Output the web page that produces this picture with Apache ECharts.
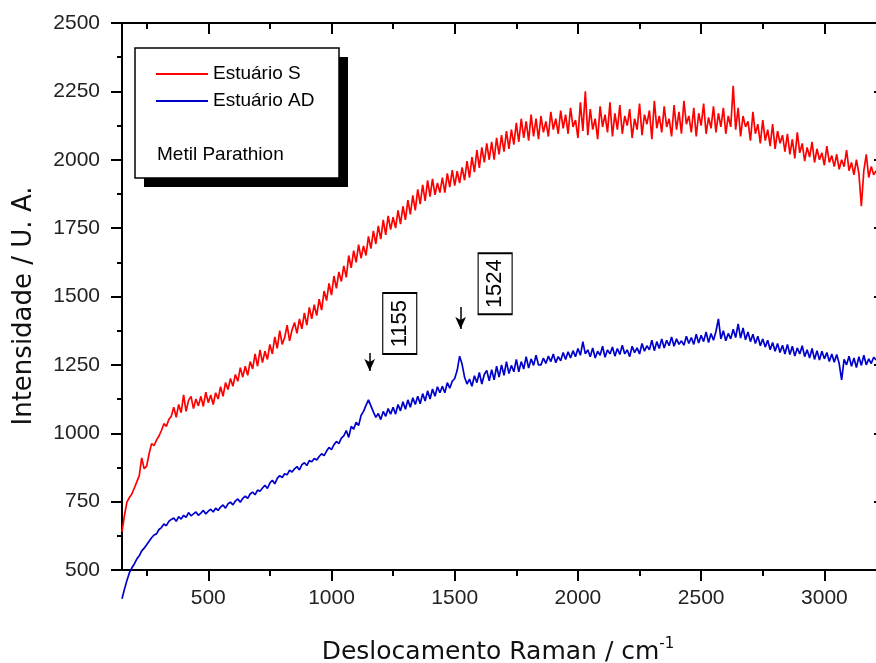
<!DOCTYPE html>
<html><head><meta charset="utf-8">
<script src="https://cdn.jsdelivr.net/npm/echarts@6/dist/echarts.min.js"></script>
<style>html,body{margin:0;padding:0;background:#fff}#c{width:876px;height:663px}</style>
</head><body><div id="c"></div>
<script>
// Raman shift (cm^-1)
const ramanShift = [
150,160,170,180,190,200,210,220,230,240,
250,260,270,280,290,300,310,320,330,340,
350,360,370,380,390,400,410,420,430,440,
450,460,470,480,490,500,510,520,530,540,
550,560,570,580,590,600,610,620,630,640,
650,660,670,680,690,700,710,720,730,740,
750,760,770,780,790,800,810,820,830,840,
850,860,870,880,890,900,910,920,930,940,
950,960,970,980,990,1000,1010,1020,1030,1040,
1050,1060,1070,1080,1090,1100,1110,1120,1130,1140,
1150,1160,1170,1180,1190,1200,1210,1220,1230,1240,
1250,1260,1270,1280,1290,1300,1310,1320,1330,1340,
1350,1360,1370,1380,1390,1400,1410,1420,1430,1440,
1450,1460,1470,1480,1490,1500,1510,1520,1530,1540,
1550,1560,1570,1580,1590,1600,1610,1620,1630,1640,
1650,1660,1670,1680,1690,1700,1710,1720,1730,1740,
1750,1760,1770,1780,1790,1800,1810,1820,1830,1840,
1850,1860,1870,1880,1890,1900,1910,1920,1930,1940,
1950,1960,1970,1980,1990,2000,2010,2020,2030,2040,
2050,2060,2070,2080,2090,2100,2110,2120,2130,2140,
2150,2160,2170,2180,2190,2200,2210,2220,2230,2240,
2250,2260,2270,2280,2290,2300,2310,2320,2330,2340,
2350,2360,2370,2380,2390,2400,2410,2420,2430,2440,
2450,2460,2470,2480,2490,2500,2510,2520,2530,2540,
2550,2560,2570,2580,2590,2600,2610,2620,2630,2640,
2650,2660,2670,2680,2690,2700,2710,2720,2730,2740,
2750,2760,2770,2780,2790,2800,2810,2820,2830,2840,
2850,2860,2870,2880,2890,2900,2910,2920,2930,2940,
2950,2960,2970,2980,2990,3000,3010,3020,3030,3040,
3050,3060,3070,3080,3090,3100,3110,3120,3130,3140,
3150,3160,3170,3180,3190,3200,3210];

// Estuário S (red)
const estuarioS = [
640,700,748,765,778,800,822,845,910,870,
880,925,962,955,975,990,1010,1035,1025,1050,
1062,1095,1058,1105,1075,1140,1080,1120,1135,1090,
1125,1100,1135,1098,1150,1112,1140,1105,1148,1125,
1170,1135,1185,1160,1200,1172,1215,1190,1240,1205,
1245,1212,1262,1235,1290,1245,1305,1258,1300,1270,
1325,1290,1352,1310,1375,1325,1350,1395,1338,1378,
1405,1365,1418,1382,1440,1395,1460,1418,1470,1430,
1490,1450,1520,1485,1548,1505,1575,1530,1590,1555,
1612,1570,1650,1605,1668,1625,1690,1640,1685,1650,
1720,1675,1740,1692,1758,1710,1780,1725,1795,1745,
1790,1750,1815,1765,1830,1780,1852,1800,1870,1815,
1892,1838,1908,1850,1925,1865,1930,1872,1915,1880,
1935,1880,1950,1900,1962,1905,1958,1915,1972,1925,
1995,1935,2010,1955,2035,1970,2045,1990,2060,2000,
2065,2000,2080,2020,2090,2030,2105,2040,2110,2055,
2135,2065,2150,2080,2140,2070,2165,2085,2150,2075,
2160,2100,2140,2085,2175,2110,2150,2095,2180,2115,
2165,2095,2190,2120,2145,2080,2210,2105,2250,2090,
2185,2110,2150,2075,2195,2120,2165,2100,2210,2085,
2170,2110,2200,2095,2160,2125,2185,2080,2150,2110,
2205,2090,2165,2130,2180,2075,2215,2115,2160,2100,
2195,2120,2150,2085,2200,2110,2175,2095,2215,2130,
2160,2100,2190,2085,2170,2125,2205,2095,2155,2115,
2195,2100,2170,2120,2190,2095,2160,2120,2270,2110,
2190,2085,2160,2120,2140,2070,2175,2095,2130,2060,
2145,2070,2110,2050,2130,2040,2105,2060,2090,2030,
2095,2020,2075,2005,2100,2025,2060,1995,2045,2010,
2065,1990,2040,2000,2025,1980,2050,1990,2015,1975,
2020,1965,2000,1975,2035,1960,1990,1945,2000,1950,
1830,1960,2020,1935,1975,1945,1960];

// Estuário AD (blue)
const estuarioAD = [
395,430,462,490,508,522,540,552,570,580,
592,605,618,628,632,648,655,668,662,678,
685,690,678,695,686,700,692,710,698,705,
712,700,708,718,705,715,722,712,726,718,
730,738,726,742,748,738,752,760,748,762,
770,762,778,785,775,792,788,800,810,798,
818,828,815,835,845,838,852,848,865,858,
870,878,866,885,892,882,900,896,908,902,
915,925,918,935,948,940,958,970,962,982,
990,1010,985,1025,1015,1040,1028,1065,1080,1102,
1122,1100,1078,1058,1072,1050,1080,1062,1090,1070,
1095,1070,1105,1082,1115,1088,1122,1095,1130,1105,
1135,1108,1145,1118,1155,1125,1162,1135,1170,1148,
1172,1148,1185,1165,1190,1200,1230,1282,1252,1205,
1180,1198,1172,1210,1185,1222,1180,1215,1230,1192,
1232,1195,1245,1205,1250,1212,1262,1218,1248,1225,
1270,1225,1262,1235,1280,1238,1272,1248,1285,1250,
1250,1275,1255,1282,1262,1290,1258,1280,1265,1295,
1270,1298,1275,1302,1280,1310,1285,1335,1290,1305,
1280,1312,1275,1300,1285,1318,1278,1305,1290,1315,
1282,1310,1288,1322,1290,1305,1280,1318,1295,1312,
1290,1328,1300,1320,1305,1340,1302,1335,1310,1345,
1312,1340,1320,1352,1318,1345,1325,1338,1322,1355,
1328,1350,1325,1362,1330,1358,1335,1370,1332,1365,
1340,1372,1418,1345,1375,1338,1365,1345,1380,1350,
1400,1348,1385,1342,1370,1335,1362,1328,1355,1320,
1345,1315,1340,1305,1332,1300,1328,1295,1322,1290,
1325,1288,1318,1282,1312,1290,1320,1280,1305,1275,
1310,1270,1302,1268,1300,1272,1295,1262,1290,1260,
1288,1255,1195,1270,1250,1282,1245,1275,1240,1280,
1248,1285,1250,1272,1255,1278,1268];

const seriesNames = ['Estuário S', 'Estuário AD'];
const seriesColors = ['#ff0000', '#0000cd'];
const xMajorTicks = [500, 1000, 1500, 2000, 2500, 3000];
const xMinorTicks = [250, 750, 1250, 1750, 2250, 2750];
const peakNames = ['1155', '1524'];
const peakShifts = [1155, 1524];
const arrowTop = [1293, 1462];
const arrowBottom = [1228, 1381];
const boxShift = [1277, 1664];
const boxIntensity = [1401, 1547];

const chart = echarts.init(document.getElementById('c'), null, {renderer: 'canvas'});
const pairs = arr => arr.map((v, i) => [ramanShift[i], v]);
const fmt = v => String(v);
const AX = '#000';
const labelFont = 'Arial';

const xBase = {
  type: 'value', min: 150, max: 3250, gridIndex: 0,
  splitLine: {show: false}
};

const option = {
  animation: false,
  backgroundColor: '#fff',
  grid: {left: 122, top: 23, right: -10, bottom: 93, containLabel: false, outerBoundsMode: 'none'},
  xAxis: [
    Object.assign({}, xBase, {
      position: 'bottom',
      axisLine: {show: true, onZero: false, lineStyle: {color: AX, width: 2}},
      axisTick: {show: true, inside: false, length: 11, customValues: xMajorTicks, lineStyle: {color: AX, width: 2}},
      axisLabel: {show: true, customValues: xMajorTicks, formatter: fmt, margin: 18, fontSize: 21, fontFamily: labelFont, color: '#222'}
    }),
    Object.assign({}, xBase, {
      position: 'bottom',
      axisLine: {show: false, onZero: false},
      axisTick: {show: true, inside: false, length: 6, customValues: xMinorTicks, lineStyle: {color: AX, width: 2}},
      axisLabel: {show: false}
    }),
    Object.assign({}, xBase, {
      position: 'top',
      axisLine: {show: true, onZero: false, lineStyle: {color: AX, width: 2}},
      axisTick: {show: true, inside: true, length: 11, customValues: xMajorTicks, lineStyle: {color: AX, width: 2}},
      axisLabel: {show: false}
    }),
    Object.assign({}, xBase, {
      position: 'top',
      axisLine: {show: false, onZero: false},
      axisTick: {show: true, inside: true, length: 6, customValues: xMinorTicks, lineStyle: {color: AX, width: 2}},
      axisLabel: {show: false}
    })
  ],
  yAxis: [
    {
      type: 'value', position: 'left', min: 500, max: 2500, interval: 250,
      splitLine: {show: false},
      axisLine: {show: true, onZero: false, lineStyle: {color: AX, width: 2}},
      axisTick: {show: true, inside: false, length: 11, lineStyle: {color: AX, width: 2}},
      minorTick: {show: true, splitNumber: 2, length: 5, lineStyle: {color: AX, width: 2}},
      minorSplitLine: {show: false},
      axisLabel: {formatter: fmt, margin: 22, fontSize: 21, fontFamily: labelFont, color: '#222'}
    },
    {
      type: 'value', position: 'right', min: 500, max: 2500, interval: 250,
      splitLine: {show: false},
      axisLine: {show: true, onZero: false, lineStyle: {color: AX, width: 2}},
      axisTick: {show: true, inside: true, length: 12, lineStyle: {color: AX, width: 2}},
      minorTick: {show: true, splitNumber: 2, length: 9, lineStyle: {color: AX, width: 1}},
      axisLabel: {show: false}
    }
  ],
  legend: {
    data: seriesNames, orient: 'vertical', left: 156, top: 64, padding: 0,
    icon: 'rect', itemWidth: 52, itemHeight: 2, itemGap: 7, selectedMode: false, z: 10,
    textStyle: {fontSize: 19, fontFamily: labelFont, color: '#000', lineHeight: 20}
  },
  graphic: [
    {type: 'rect', z: 3, silent: true, shape: {x: 144, y: 57, width: 204, height: 130}, style: {fill: '#000'}},
    {type: 'rect', z: 4, silent: true, shape: {x: 135, y: 48, width: 204, height: 130}, style: {fill: '#fff', stroke: '#000', lineWidth: 1.5}},
    {type: 'text', z: 11, silent: true, style: {x: 157, y: 155, text: 'Metil Parathion', verticalAlign: 'middle', fontSize: 19, fontFamily: labelFont, fill: '#000'}},
    {type: 'text', z: 11, silent: true, style: {
      x: 498, y: 652, align: 'center', verticalAlign: 'middle',
      text: '{a|Deslocamento Raman / cm}{b|-1}',
      rich: {
        a: {fontSize: 25, fontFamily: 'DejaVu Sans', fill: '#111', lineHeight: 30},
        b: {fontSize: 15, fontFamily: 'DejaVu Sans', fill: '#111', lineHeight: 6, verticalAlign: 'top'}
      }
    }},
    {type: 'text', z: 11, silent: true, x: 24, y: 306, rotation: Math.PI / 2, style: {
      x: 0, y: 0, align: 'center', verticalAlign: 'middle',
      text: 'Intensidade / U. A.', fontSize: 26, fontFamily: 'DejaVu Sans', fill: '#111'
    }}
  ],
  series: [
    {
      name: seriesNames[0], type: 'line', xAxisIndex: 0, yAxisIndex: 0,
      data: pairs(estuarioS), symbol: 'none', clip: false,
      lineStyle: {color: seriesColors[0], width: 1.7}, itemStyle: {color: seriesColors[0]}
    },
    {
      name: seriesNames[1], type: 'line', xAxisIndex: 0, yAxisIndex: 0,
      data: pairs(estuarioAD), symbol: 'none', clip: false,
      lineStyle: {color: seriesColors[1], width: 1.7}, itemStyle: {color: seriesColors[1]},
      markLine: {
        silent: true, symbol: ['none', 'arrow'], symbolSize: [8, 12],
        lineStyle: {color: '#000', width: 1.5, type: 'solid'},
        label: {show: false},
        data: peakShifts.map((s, i) => [{coord: [s, arrowTop[i]]}, {coord: [s, arrowBottom[i]]}])
      },
      markPoint: {
        silent: true, symbol: 'rect', symbolSize: [34, 61],
        itemStyle: {color: '#fff', borderColor: '#000', borderWidth: 1.5},
        label: {show: true, position: 'inside', rotate: 90, color: '#000', fontSize: 22, fontFamily: labelFont, formatter: p => p.name},
        data: peakNames.map((n, i) => ({name: n, coord: [boxShift[i], boxIntensity[i]]}))
      }
    }
  ]
};
chart.setOption(option);
</script>
</body></html>
